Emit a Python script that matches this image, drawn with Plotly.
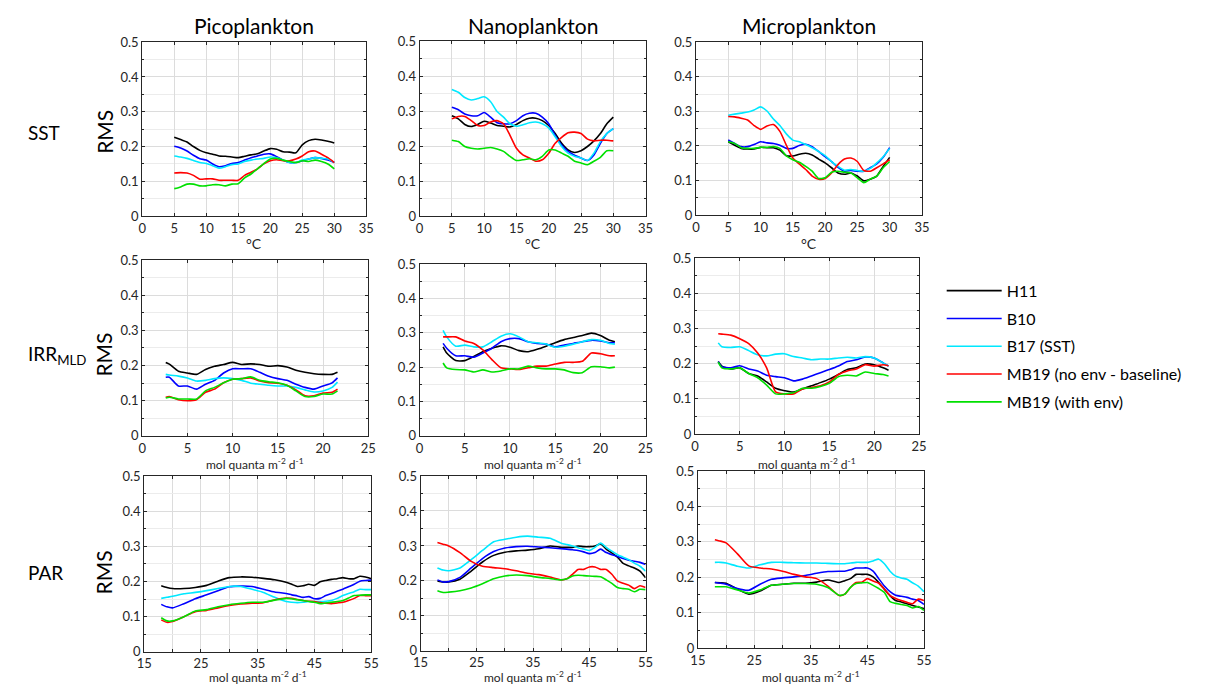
import plotly.graph_objects as go

# ---------------- data ----------------
series_names = ["H11", "B10", "B17 (SST)", "MB19 (no env - baseline)", "MB19 (with env)"]
series_colors = ["#000000", "#0000ff", "#00e8ff", "#ff0000", "#00e000"]
col_titles = ["Picoplankton", "Nanoplankton", "Microplankton"]
row_labels = ["SST", "IRR<sub>MLD</sub>", "PAR"]
x_titles = ["°C", "mol quanta m<sup>-2</sup> d<sup>-1</sup>", "mol quanta m<sup>-2</sup> d<sup>-1</sup>"]

sst_x = [5, 6, 7, 8, 9, 10, 11, 12, 13, 14, 15, 16, 17, 18, 19, 20, 21, 22, 23, 24, 25, 26, 27, 28, 29, 30]
irr_x = [2.6, 3, 4, 5, 6, 7, 8, 9, 10, 11, 12, 13, 14, 15, 16, 17, 18, 19, 20, 21, 21.6]
par_x = [18, 19, 20, 22, 24, 26, 28, 30, 32, 34, 36, 38, 40, 41, 42, 43, 44, 45, 46, 47, 48, 49, 50, 51, 52, 53, 54, 55]

# SST - Picoplankton
sst_pico_h11 = [0.227, 0.220, 0.213, 0.200, 0.189, 0.182, 0.178, 0.173, 0.172, 0.170, 0.168, 0.172, 0.176, 0.179, 0.187, 0.194, 0.192, 0.185, 0.184, 0.182, 0.205, 0.217, 0.221, 0.219, 0.215, 0.210]
sst_pico_b10 = [0.201, 0.196, 0.187, 0.175, 0.165, 0.161, 0.150, 0.142, 0.145, 0.151, 0.154, 0.161, 0.168, 0.173, 0.178, 0.179, 0.171, 0.161, 0.154, 0.154, 0.159, 0.164, 0.168, 0.166, 0.161, 0.154]
sst_pico_b17 = [0.173, 0.170, 0.166, 0.160, 0.154, 0.151, 0.145, 0.138, 0.142, 0.148, 0.150, 0.157, 0.161, 0.164, 0.166, 0.170, 0.168, 0.161, 0.154, 0.154, 0.161, 0.164, 0.168, 0.166, 0.164, 0.154]
sst_pico_mb19 = [0.124, 0.125, 0.124, 0.117, 0.106, 0.107, 0.107, 0.103, 0.103, 0.103, 0.103, 0.117, 0.126, 0.136, 0.150, 0.159, 0.162, 0.159, 0.159, 0.164, 0.173, 0.185, 0.187, 0.178, 0.168, 0.154]
sst_pico_mb19env = [0.079, 0.084, 0.092, 0.092, 0.087, 0.087, 0.090, 0.090, 0.087, 0.092, 0.093, 0.110, 0.121, 0.136, 0.151, 0.164, 0.166, 0.161, 0.157, 0.154, 0.159, 0.157, 0.161, 0.157, 0.150, 0.136]

# SST - Nanoplankton
sst_nano_h11 = [0.287, 0.278, 0.262, 0.256, 0.262, 0.271, 0.266, 0.259, 0.257, 0.255, 0.262, 0.273, 0.280, 0.280, 0.273, 0.259, 0.236, 0.208, 0.189, 0.182, 0.187, 0.199, 0.215, 0.236, 0.264, 0.283]
sst_nano_b10 = [0.311, 0.304, 0.292, 0.287, 0.287, 0.296, 0.283, 0.267, 0.264, 0.264, 0.273, 0.287, 0.294, 0.294, 0.283, 0.264, 0.231, 0.203, 0.185, 0.174, 0.166, 0.159, 0.175, 0.208, 0.236, 0.250]
sst_nano_b17 = [0.362, 0.354, 0.339, 0.332, 0.336, 0.341, 0.327, 0.299, 0.283, 0.264, 0.257, 0.261, 0.267, 0.269, 0.264, 0.252, 0.227, 0.199, 0.180, 0.171, 0.166, 0.159, 0.180, 0.213, 0.236, 0.250]
sst_nano_mb19 = [0.278, 0.285, 0.285, 0.273, 0.259, 0.259, 0.269, 0.273, 0.264, 0.231, 0.194, 0.175, 0.166, 0.157, 0.161, 0.180, 0.208, 0.225, 0.238, 0.240, 0.236, 0.220, 0.215, 0.217, 0.217, 0.215]
sst_nano_mb19env = [0.217, 0.213, 0.199, 0.194, 0.192, 0.194, 0.196, 0.192, 0.185, 0.171, 0.159, 0.161, 0.164, 0.161, 0.171, 0.189, 0.189, 0.180, 0.171, 0.157, 0.152, 0.147, 0.157, 0.168, 0.187, 0.187]

# SST - Microplankton
sst_micro_h11 = [0.212, 0.202, 0.193, 0.191, 0.191, 0.196, 0.195, 0.195, 0.188, 0.172, 0.171, 0.176, 0.179, 0.174, 0.162, 0.151, 0.137, 0.122, 0.118, 0.122, 0.113, 0.099, 0.104, 0.113, 0.141, 0.167]
sst_micro_b10 = [0.217, 0.207, 0.198, 0.198, 0.204, 0.212, 0.209, 0.207, 0.202, 0.193, 0.193, 0.201, 0.205, 0.198, 0.184, 0.169, 0.155, 0.138, 0.127, 0.129, 0.127, 0.127, 0.137, 0.148, 0.167, 0.195]
sst_micro_b17 = [0.289, 0.292, 0.295, 0.298, 0.304, 0.313, 0.301, 0.278, 0.259, 0.235, 0.217, 0.212, 0.204, 0.195, 0.184, 0.172, 0.155, 0.141, 0.130, 0.132, 0.129, 0.127, 0.135, 0.151, 0.169, 0.193]
sst_micro_mb19 = [0.285, 0.284, 0.280, 0.275, 0.259, 0.248, 0.258, 0.262, 0.242, 0.202, 0.165, 0.148, 0.132, 0.113, 0.104, 0.106, 0.122, 0.146, 0.162, 0.165, 0.155, 0.129, 0.127, 0.137, 0.148, 0.160]
sst_micro_mb19env = [0.212, 0.207, 0.195, 0.193, 0.193, 0.196, 0.196, 0.198, 0.193, 0.171, 0.160, 0.153, 0.141, 0.127, 0.106, 0.108, 0.124, 0.127, 0.124, 0.122, 0.108, 0.094, 0.104, 0.113, 0.137, 0.155]

# IRR_MLD - Picoplankton
irr_pico_h11 = [0.209, 0.204, 0.184, 0.179, 0.175, 0.189, 0.198, 0.203, 0.209, 0.203, 0.205, 0.203, 0.198, 0.200, 0.196, 0.187, 0.181, 0.177, 0.175, 0.175, 0.181]
irr_pico_b10 = [0.167, 0.167, 0.142, 0.142, 0.133, 0.147, 0.158, 0.179, 0.191, 0.191, 0.191, 0.181, 0.170, 0.163, 0.158, 0.147, 0.138, 0.133, 0.142, 0.151, 0.165]
irr_pico_b17 = [0.175, 0.173, 0.170, 0.165, 0.156, 0.158, 0.163, 0.165, 0.163, 0.158, 0.150, 0.147, 0.144, 0.142, 0.142, 0.138, 0.131, 0.125, 0.128, 0.138, 0.153]
irr_pico_mb19 = [0.110, 0.112, 0.103, 0.100, 0.103, 0.124, 0.133, 0.151, 0.161, 0.163, 0.165, 0.156, 0.151, 0.150, 0.144, 0.131, 0.114, 0.114, 0.122, 0.124, 0.133]
irr_pico_mb19env = [0.108, 0.110, 0.105, 0.105, 0.105, 0.128, 0.138, 0.151, 0.161, 0.163, 0.168, 0.158, 0.154, 0.151, 0.144, 0.128, 0.112, 0.112, 0.119, 0.119, 0.128]

# IRR_MLD - Nanoplankton
irr_nano_h11 = [0.259, 0.241, 0.219, 0.219, 0.231, 0.245, 0.255, 0.262, 0.258, 0.248, 0.245, 0.252, 0.261, 0.271, 0.280, 0.286, 0.292, 0.299, 0.292, 0.278, 0.274]
irr_nano_b10 = [0.269, 0.255, 0.233, 0.233, 0.229, 0.241, 0.255, 0.274, 0.283, 0.283, 0.274, 0.269, 0.267, 0.259, 0.264, 0.269, 0.274, 0.278, 0.276, 0.271, 0.271]
irr_nano_b17 = [0.307, 0.288, 0.261, 0.264, 0.259, 0.259, 0.274, 0.290, 0.297, 0.288, 0.274, 0.271, 0.267, 0.258, 0.261, 0.267, 0.274, 0.280, 0.278, 0.269, 0.267]
irr_nano_mb19 = [0.288, 0.288, 0.288, 0.276, 0.269, 0.250, 0.222, 0.198, 0.195, 0.193, 0.198, 0.203, 0.203, 0.209, 0.214, 0.214, 0.217, 0.241, 0.239, 0.233, 0.233]
irr_nano_mb19env = [0.212, 0.198, 0.193, 0.192, 0.186, 0.192, 0.186, 0.189, 0.195, 0.195, 0.203, 0.198, 0.195, 0.195, 0.192, 0.184, 0.184, 0.201, 0.201, 0.198, 0.200]

# IRR_MLD - Microplankton
irr_micro_h11 = [0.206, 0.193, 0.185, 0.188, 0.172, 0.165, 0.148, 0.130, 0.123, 0.119, 0.128, 0.137, 0.146, 0.156, 0.169, 0.183, 0.188, 0.199, 0.197, 0.188, 0.181]
irr_micro_b10 = [0.206, 0.191, 0.188, 0.194, 0.185, 0.179, 0.167, 0.163, 0.160, 0.151, 0.156, 0.165, 0.174, 0.183, 0.193, 0.206, 0.211, 0.219, 0.216, 0.202, 0.193]
irr_micro_b17 = [0.259, 0.248, 0.246, 0.248, 0.237, 0.225, 0.222, 0.227, 0.228, 0.220, 0.216, 0.211, 0.213, 0.213, 0.216, 0.218, 0.216, 0.220, 0.216, 0.202, 0.193]
irr_micro_mb19 = [0.285, 0.284, 0.281, 0.271, 0.257, 0.230, 0.188, 0.120, 0.114, 0.114, 0.128, 0.132, 0.137, 0.148, 0.169, 0.179, 0.185, 0.197, 0.193, 0.197, 0.194]
irr_micro_mb19env = [0.204, 0.188, 0.185, 0.188, 0.172, 0.160, 0.139, 0.114, 0.114, 0.117, 0.130, 0.130, 0.135, 0.144, 0.163, 0.167, 0.165, 0.176, 0.172, 0.169, 0.165]

# PAR - Picoplankton
par_pico_h11 = [0.188, 0.183, 0.180, 0.180, 0.183, 0.189, 0.201, 0.211, 0.213, 0.212, 0.209, 0.205, 0.198, 0.192, 0.186, 0.188, 0.192, 0.189, 0.199, 0.203, 0.206, 0.208, 0.211, 0.208, 0.208, 0.215, 0.213, 0.208]
par_pico_b10 = [0.135, 0.128, 0.125, 0.137, 0.151, 0.162, 0.174, 0.185, 0.187, 0.186, 0.178, 0.170, 0.166, 0.162, 0.159, 0.155, 0.157, 0.151, 0.152, 0.160, 0.166, 0.172, 0.178, 0.185, 0.192, 0.201, 0.203, 0.204]
par_pico_b17 = [0.152, 0.155, 0.158, 0.165, 0.169, 0.174, 0.180, 0.186, 0.186, 0.178, 0.169, 0.155, 0.143, 0.141, 0.140, 0.141, 0.143, 0.143, 0.143, 0.144, 0.146, 0.152, 0.160, 0.166, 0.171, 0.178, 0.177, 0.177]
par_pico_mb19 = [0.091, 0.084, 0.086, 0.100, 0.114, 0.118, 0.125, 0.132, 0.136, 0.138, 0.140, 0.148, 0.153, 0.152, 0.149, 0.146, 0.144, 0.143, 0.140, 0.138, 0.137, 0.139, 0.141, 0.146, 0.152, 0.160, 0.160, 0.160]
par_pico_mb19env = [0.097, 0.088, 0.088, 0.100, 0.116, 0.120, 0.128, 0.134, 0.138, 0.141, 0.141, 0.147, 0.152, 0.151, 0.148, 0.146, 0.143, 0.141, 0.137, 0.139, 0.141, 0.143, 0.146, 0.153, 0.160, 0.161, 0.162, 0.162]

# PAR - Nanoplankton
par_nano_h11 = [0.200, 0.197, 0.197, 0.205, 0.228, 0.254, 0.273, 0.282, 0.286, 0.288, 0.292, 0.300, 0.296, 0.296, 0.296, 0.300, 0.298, 0.298, 0.300, 0.306, 0.291, 0.280, 0.268, 0.250, 0.243, 0.237, 0.228, 0.209]
par_nano_b10 = [0.203, 0.197, 0.198, 0.210, 0.237, 0.264, 0.284, 0.294, 0.298, 0.299, 0.297, 0.295, 0.292, 0.291, 0.289, 0.287, 0.283, 0.278, 0.281, 0.291, 0.281, 0.275, 0.270, 0.264, 0.259, 0.256, 0.253, 0.247]
par_nano_b17 = [0.237, 0.231, 0.229, 0.237, 0.261, 0.287, 0.312, 0.319, 0.325, 0.328, 0.325, 0.322, 0.308, 0.304, 0.300, 0.295, 0.291, 0.287, 0.296, 0.308, 0.296, 0.285, 0.275, 0.268, 0.261, 0.251, 0.242, 0.228]
par_nano_mb19 = [0.310, 0.305, 0.300, 0.281, 0.256, 0.242, 0.238, 0.235, 0.229, 0.222, 0.218, 0.211, 0.203, 0.206, 0.219, 0.233, 0.233, 0.240, 0.240, 0.233, 0.233, 0.219, 0.200, 0.193, 0.188, 0.178, 0.186, 0.181]
par_nano_mb19env = [0.172, 0.167, 0.168, 0.172, 0.180, 0.192, 0.206, 0.214, 0.217, 0.215, 0.210, 0.207, 0.203, 0.206, 0.214, 0.216, 0.215, 0.214, 0.213, 0.212, 0.203, 0.193, 0.181, 0.178, 0.176, 0.169, 0.176, 0.175]

# PAR - Microplankton
par_micro_h11 = [0.185, 0.184, 0.183, 0.166, 0.152, 0.161, 0.177, 0.180, 0.183, 0.183, 0.186, 0.192, 0.185, 0.190, 0.196, 0.208, 0.208, 0.208, 0.201, 0.185, 0.166, 0.148, 0.134, 0.130, 0.125, 0.120, 0.116, 0.111]
par_micro_b10 = [0.185, 0.183, 0.180, 0.168, 0.163, 0.180, 0.194, 0.198, 0.201, 0.205, 0.211, 0.216, 0.217, 0.217, 0.221, 0.226, 0.226, 0.226, 0.217, 0.196, 0.175, 0.159, 0.149, 0.146, 0.143, 0.138, 0.134, 0.123]
par_micro_b17 = [0.242, 0.242, 0.240, 0.231, 0.226, 0.235, 0.242, 0.242, 0.241, 0.240, 0.240, 0.239, 0.238, 0.238, 0.240, 0.242, 0.242, 0.242, 0.246, 0.251, 0.238, 0.217, 0.203, 0.198, 0.194, 0.184, 0.175, 0.159]
par_micro_mb19 = [0.306, 0.302, 0.297, 0.266, 0.232, 0.226, 0.223, 0.217, 0.208, 0.201, 0.196, 0.175, 0.148, 0.152, 0.171, 0.185, 0.186, 0.196, 0.189, 0.183, 0.166, 0.148, 0.140, 0.134, 0.129, 0.125, 0.138, 0.134]
par_micro_mb19env = [0.173, 0.173, 0.173, 0.164, 0.155, 0.164, 0.177, 0.180, 0.182, 0.182, 0.180, 0.171, 0.149, 0.152, 0.171, 0.182, 0.184, 0.185, 0.177, 0.168, 0.157, 0.131, 0.126, 0.123, 0.120, 0.113, 0.117, 0.106]

# ---------------- figure ----------------
W, H = 1230, 696
FONT = "Lato, Arial, sans-serif"
INK = "#262626"

panels = [
    (sst_x, [sst_pico_h11, sst_pico_b10, sst_pico_b17, sst_pico_mb19, sst_pico_mb19env]),
    (sst_x, [sst_nano_h11, sst_nano_b10, sst_nano_b17, sst_nano_mb19, sst_nano_mb19env]),
    (sst_x, [sst_micro_h11, sst_micro_b10, sst_micro_b17, sst_micro_mb19, sst_micro_mb19env]),
    (irr_x, [irr_pico_h11, irr_pico_b10, irr_pico_b17, irr_pico_mb19, irr_pico_mb19env]),
    (irr_x, [irr_nano_h11, irr_nano_b10, irr_nano_b17, irr_nano_mb19, irr_nano_mb19env]),
    (irr_x, [irr_micro_h11, irr_micro_b10, irr_micro_b17, irr_micro_mb19, irr_micro_mb19env]),
    (par_x, [par_pico_h11, par_pico_b10, par_pico_b17, par_pico_mb19, par_pico_mb19env]),
    (par_x, [par_nano_h11, par_nano_b10, par_nano_b17, par_nano_mb19, par_nano_mb19env]),
    (par_x, [par_micro_h11, par_micro_b10, par_micro_b17, par_micro_mb19, par_micro_mb19env]),
]

# panel boxes in pixels: left, right, top, bottom
boxes = [
    (136, 363, 35, 213), (417, 646, 34, 213), (697, 926, 35, 212),
    (136, 365, 258, 438), (417, 646, 262, 438), (696, 923, 256, 436),
    (138, 368, 479, 659), (418, 646, 479, 658), (699, 928, 474, 655),
]
x_ranges = [[0, 35], [0, 25], [15, 55]]

fig = go.Figure()
layout = {}
for i, ((xs, ys_list), box) in enumerate(zip(panels, boxes)):
    row = i // 3
    sfx = "" if i == 0 else str(i + 1)
    for k, ys in enumerate(ys_list):
        fig.add_trace(go.Scatter(
            x=xs, y=ys, mode="lines", name=series_names[k],
            line=dict(color=series_colors[k], width=1.6, shape="spline", smoothing=0.6),
            showlegend=(i == 0), legendgroup=series_names[k],
            xaxis="x" + sfx, yaxis="y" + sfx, hoverinfo="skip",
        ))
    L, R, T, B = box
    xa = dict(
        domain=[L / W, R / W], anchor="y" + sfx, range=x_ranges[row],
        showline=True, mirror="allticks", linecolor=INK, linewidth=1,
        ticks="inside", ticklen=3, tickcolor=INK,
        showgrid=True, gridcolor="#dcdcdc", gridwidth=1, zeroline=False,
        tickfont=dict(family=FONT, size=13, color=INK),
    )
    if row == 2:
        xa.update(tick0=15, dtick=10, minor=dict(dtick=5, showgrid=True, gridcolor="#dcdcdc", ticks="inside", ticklen=3, tickcolor=INK))
    else:
        xa.update(tick0=0, dtick=5)
    ya = dict(
        domain=[1 - B / H, 1 - T / H], anchor="x" + sfx, range=[0, 0.5],
        showline=True, mirror="allticks", linecolor=INK, linewidth=1,
        ticks="inside", ticklen=3, tickcolor=INK, tick0=0, dtick=0.1,
        showgrid=True, gridcolor="#dcdcdc", gridwidth=1, zeroline=False,
        tickformat="~g",
        minor=dict(dtick=0.05, showgrid=True, gridcolor="#ececec", ticks="inside", ticklen=2, tickcolor=INK),
        tickfont=dict(family=FONT, size=13, color=INK),
    )
    layout["xaxis" + sfx] = xa
    layout["yaxis" + sfx] = ya

annotations = []
# column titles
for c, t in enumerate(col_titles):
    L, R, T, B = boxes[c]
    annotations.append(dict(text=t, x=(L + R) / 2 / W, y=1 - 18 / H, xref="paper", yref="paper",
                            showarrow=False, font=dict(family=FONT, size=21, color="#000000"),
                            xanchor="center", yanchor="middle"))
# row labels + RMS + x titles
row_label_y = [127, 355, 578]
x_title_y = [241, 467, 685]
for r in range(3):
    annotations.append(dict(text=row_labels[r], x=18 / W, y=1 - row_label_y[r] / H, xref="paper", yref="paper",
                            showarrow=False, font=dict(family=FONT, size=19, color="#000000"),
                            xanchor="left", yanchor="middle"))
    annotations.append(dict(text="RMS", x=97 / W, y=1 - row_label_y[r] / H, xref="paper", yref="paper",
                            showarrow=False, textangle=-90, font=dict(family=FONT, size=21, color="#000000"),
                            xanchor="center", yanchor="middle"))
    for c in range(3):
        L, R, T, B = boxes[r * 3 + c]
        annotations.append(dict(text=x_titles[r], x=(L + R) / 2 / W, y=1 - x_title_y[r] / H, xref="paper", yref="paper",
                                showarrow=False, font=dict(family=FONT, size=14 if r == 0 else 12, color=INK),
                                xanchor="center", yanchor="middle"))

fig.update_layout(
    width=W, height=H, autosize=False,
    margin=dict(l=0, r=0, t=0, b=0),
    paper_bgcolor="white", plot_bgcolor="white",
    showlegend=True,
    legend=dict(x=946 / W, y=1 - 272 / H, xanchor="left", yanchor="top",
                font=dict(family=FONT, size=16, color="#000000"),
                tracegroupgap=4, itemwidth=55, bgcolor="rgba(0,0,0,0)"),
    annotations=annotations,
    **layout,
)

fig.write_html("out.html")
